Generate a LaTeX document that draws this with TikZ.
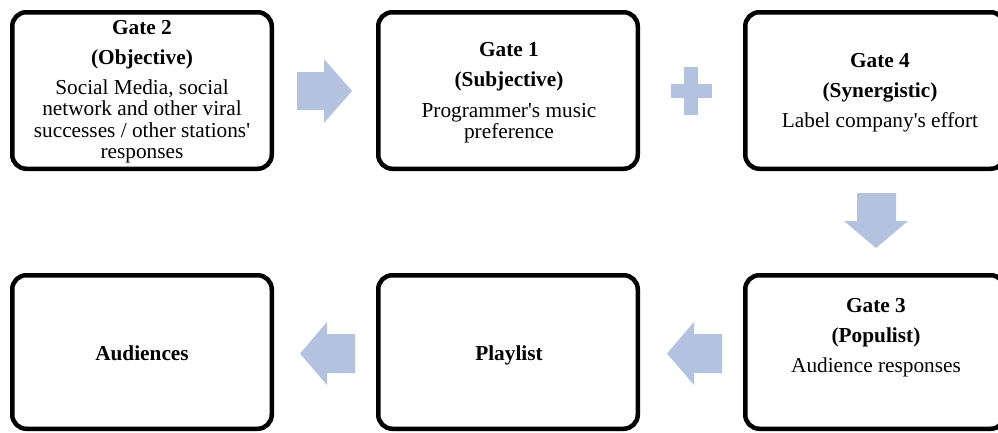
\documentclass[tikz,border=0pt]{standalone}
\usepackage{fontspec}
\setmainfont[Ligatures=TeXOff]{Liberation Serif}
\definecolor{arrowblue}{RGB}{179,195,223}
\newcommand\boxlines[1]{\vtop{\baselineskip=21.4pt\lineskiplimit=-10pt\halign{\hfil##\hfil\cr#1\crcr}}}
\newcommand\gapline{\noalign{\vskip8.8pt}}
\tikzset{
  gbox/.style={draw=black, line width=4.5pt, rounded corners=14pt, fill=white,
    minimum width=259.5pt, inner sep=0pt},
  toprow/.style={gbox, minimum height=156.5pt},
  botrow/.style={gbox, minimum height=153.5pt},
  gtext/.style={anchor=base, inner sep=0pt, font=\fontsize{21.3}{21.4}\selectfont},
  blockarrow/.style={fill=arrowblue, draw=none}
}
\begin{document}
\begin{tikzpicture}[x=1pt,y=-1pt]
\useasboundingbox (0,0) rectangle (998,432);
% boxes
\node[toprow] (b1) at (142,90.5) {};
\node[toprow] (b2) at (508,90.5) {};
\node[toprow] (b3) at (875,90.5) {};
\node[botrow] (b4) at (142,352) {};
\node[botrow] (b5) at (508,352) {};
\node[botrow] (b6) at (875,352) {};
% texts
\node[gtext] (t1) at (142,34) {\boxlines{\bfseries Gate 2\cr\gapline
  \bfseries (Objective)\cr\gapline
  Social Media, social\cr network and other viral\cr successes / other stations'\cr responses}};
\node[gtext] (t2) at (509,56.7) {\boxlines{\bfseries Gate 1\cr\gapline
  \bfseries (Subjective)\cr\gapline
  Programmer's music\cr preference}};
\node[gtext] (t3) at (880,67.4) {\boxlines{\bfseries Gate 4\cr\gapline
  \bfseries (Synergistic)\cr\gapline
  Label company's effort}};
\node[gtext] (t6) at (876,312) {\boxlines{\bfseries Gate 3\cr\gapline
  \bfseries (Populist)\cr\gapline
  Audience responses}};
\node[gtext, font=\fontsize{21.3}{21.4}\selectfont\bfseries] (t4) at (142,360) {Audiences};
\node[gtext, font=\fontsize{21.3}{21.4}\selectfont\bfseries] (t5) at (509,360) {Playlist};
% block arrows
\fill[blockarrow] (297,72) -- (324,72) -- (324,59) -- (352,91) -- (324,123) -- (324,110) -- (297,110) -- cycle;
\fill[blockarrow] (684,67) rectangle (698,115);
\fill[blockarrow] (671,84) rectangle (712,98);
\fill[blockarrow] (857,193) -- (896,193) -- (896,221) -- (908,221) -- (876,248) -- (844,221) -- (857,221) -- cycle;
\fill[blockarrow] (722,334) -- (694,334) -- (694,322) -- (667,353.5) -- (694,385) -- (694,373) -- (722,373) -- cycle;
\fill[blockarrow] (355,334) -- (327,334) -- (327,322) -- (300,353.5) -- (327,385) -- (327,373) -- (355,373) -- cycle;
\end{tikzpicture}
\end{document}
